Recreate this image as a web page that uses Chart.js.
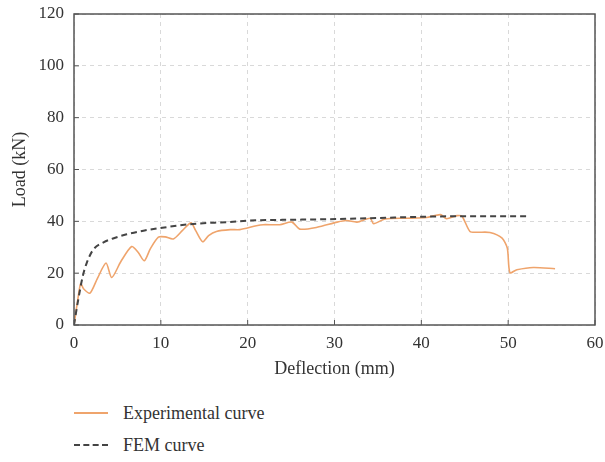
<!DOCTYPE html>
<html>
<head>
<meta charset="utf-8">
<script src="https://cdn.jsdelivr.net/npm/chart.js@4.4.0/dist/chart.umd.min.js"></script>
<style>
  body { margin: 0; background: #fff; font-family: "Liberation Serif", "DejaVu Serif", serif; }
  #wrap { position: absolute; left: 0; top: 0; width: 605px; height: 380px; }
  .leg { position: absolute; left: 74px; height: 20px; font-size: 18px; color: #333; }
  .leg .ln { position: absolute; left: 0; top: 9px; width: 34px; height: 0; }
  .leg .tx { position: absolute; left: 49px; top: 0; line-height: 20px; white-space: nowrap; }
</style>
</head>
<body>
<div id="wrap"><canvas id="grafico" width="605" height="380"></canvas></div>
<div class="leg" style="top:403px"><span class="ln" style="border-top:2px solid #EFA46C"></span><span class="tx">Experimental curve</span></div>
<div class="leg" style="top:435px"><span class="ln" style="border-top:2px dashed #444"></span><span class="tx">FEM curve</span></div>
<script>
// valores
const expX = [0, 0.4, 0.77, 1.1, 1.84, 2.7, 3.69, 4.34, 5.4, 6.64, 7.4, 8.1, 8.8, 9.72, 10.5, 11.44, 12.5, 13.48, 14.0, 14.82, 15.5, 16.4, 18, 19.1, 21.0, 21.8, 23.7, 25.1, 26.0, 28.0, 30.3, 31.4, 32.6, 34.1, 34.5, 35.8, 38.3, 40.6, 42.2, 42.9, 44.1, 44.7, 45.6, 46.5, 47.9, 49.3, 49.9, 50.2, 51.0, 52.9, 55.4];
const expY = [0, 9, 16, 14, 12.3, 18, 23.9, 18.3, 24.5, 30.3, 28, 24.8, 29.5, 33.9, 34, 33.2, 36.5, 39.4, 36.5, 32.1, 34.5, 36.1, 36.8, 36.8, 38.3, 38.7, 38.7, 39.7, 37.0, 37.7, 39.7, 40.3, 39.7, 41.2, 39.1, 40.9, 41.2, 41.5, 42.6, 41.0, 42.2, 41.9, 36.1, 35.8, 35.7, 33.5, 29.7, 20.2, 21.3, 22.2, 21.7];
const femX = [0, 0.5, 1.0, 1.46, 2.2, 3.4, 4.5, 6.07, 8, 9.9, 13.7, 17.6, 21, 25, 30.3, 35, 42.2, 47, 52.3];
const femY = [0, 10, 18.7, 23.9, 29, 31.9, 33.4, 35, 36.4, 37.4, 39, 39.7, 40.4, 40.6, 40.9, 41.3, 41.9, 42, 42];
const xTicks = [0, 10, 20, 30, 40, 50, 60];
const yTicks = [0, 20, 40, 60, 80, 100, 120];

const fonte = "'Liberation Serif', 'DejaVu Serif', serif";

// moldura + marcas internas
const moldura = {
  id: 'moldura',
  afterDraw(chart) {
    const { ctx, chartArea: a, scales } = chart;
    ctx.save();
    ctx.strokeStyle = '#555';
    ctx.lineWidth = 1.5;
    ctx.strokeRect(a.left, a.top, a.right - a.left, a.bottom - a.top);
    ctx.lineWidth = 1;
    ctx.beginPath();
    scales.x.ticks.forEach(t => {
      const px = scales.x.getPixelForValue(t.value);
      ctx.moveTo(px, a.bottom); ctx.lineTo(px, a.bottom - 5);
    });
    scales.y.ticks.forEach(t => {
      const py = scales.y.getPixelForValue(t.value);
      ctx.moveTo(a.left, py); ctx.lineTo(a.left + 5, py);
    });
    ctx.stroke();
    ctx.restore();
  }
};

new Chart(document.getElementById('grafico'), {
  type: 'line',
  data: {
    datasets: [
      {
        label: 'FEM curve',
        data: femX.map((x, i) => ({ x, y: femY[i] })),
        borderColor: '#444',
        borderWidth: 2,
        borderDash: [6, 4],
        pointRadius: 0,
        cubicInterpolationMode: 'monotone',
        fill: false
      },
      {
        label: 'Experimental curve',
        data: expX.map((x, i) => ({ x, y: expY[i] })),
        borderColor: '#EFA46C',
        borderWidth: 1.6,
        pointRadius: 0,
        tension: 0.25,
        fill: false
      }
    ]
  },
  plugins: [moldura],
  options: {
    responsive: false,
    animation: false,
    layout: { padding: { top: 14, right: 10, left: 0, bottom: 0 } },
    plugins: { legend: { display: false }, tooltip: { enabled: false } },
    scales: {
      x: {
        type: 'linear', min: 0, max: 60,
        afterBuildTicks: s => { s.ticks = xTicks.map(v => ({ value: v })); },
        afterFit: s => { s.height = 55; s.paddingLeft = 0; s.paddingRight = 0; },
        grid: { color: '#d9d9d9', lineWidth: 1, drawTicks: false },
        border: { display: false, dash: [4, 4] },
        ticks: { padding: 8, color: '#333', font: { family: fonte, size: 17 } },
        title: { display: true, text: 'Deflection (mm)', color: '#333', padding: 0, font: { family: fonte, size: 18 } }
      },
      y: {
        min: 0, max: 120,
        afterBuildTicks: s => { s.ticks = yTicks.map(v => ({ value: v })); },
        afterFit: s => { s.width = 74; s.paddingTop = 0; s.paddingBottom = 0; },
        grid: { color: '#d9d9d9', lineWidth: 1, drawTicks: false },
        border: { display: false, dash: [4, 4] },
        ticks: { padding: 10, color: '#333', font: { family: fonte, size: 17 } },
        title: { display: true, text: 'Load (kN)', color: '#333', padding: { top: 9, bottom: 0 }, font: { family: fonte, size: 18 } }
      }
    }
  }
});
</script>
</body>
</html>
